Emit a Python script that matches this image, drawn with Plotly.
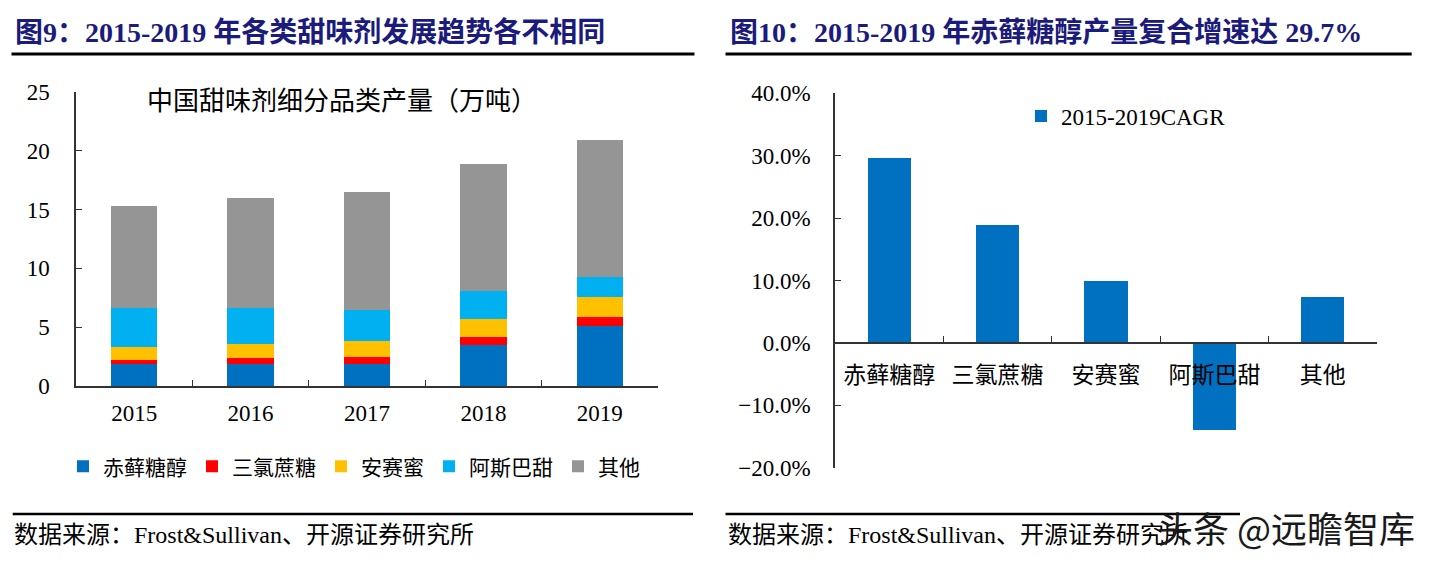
import plotly.graph_objects as go

W, H = 1433, 562

# ---------------- data ----------------
years = ["2015", "2016", "2017", "2018", "2019"]
erythritol = [1.85, 1.9, 1.9, 3.5, 5.1]
sucralose = [0.35, 0.5, 0.6, 0.7, 0.8]
acesulfame = [1.1, 1.2, 1.3, 1.5, 1.65]
aspartame = [3.3, 3.0, 2.7, 2.35, 1.75]
others = [8.7, 9.35, 10.0, 10.8, 11.6]
stack_names = ["赤藓糖醇", "三氯蔗糖", "安赛蜜", "阿斯巴甜", "其他"]
stack_colors = ["#0070C0", "#FF0000", "#FFC000", "#00B0F0", "#959595"]

cagr_cats = ["赤藓糖醇", "三氯蔗糖", "安赛蜜", "阿斯巴甜", "其他"]
cagr_vals = [29.7, 18.9, 9.9, -14.0, 7.4]
cagr_name = "2015-2019CAGR"

title_left = "图9：2015-2019 年各类甜味剂发展趋势各不相同"
title_right = "图10：2015-2019 年赤藓糖醇产量复合增速达 29.7%"
inner_title = "中国甜味剂细分品类产量（万吨）"
source_text = "数据来源：Frost&Sullivan、开源证券研究所"
watermark = "头条 @远瞻智库"

SERIF = "Liberation Serif, 'Noto Sans CJK SC', serif"
TITLE_FONT = "Liberation Serif, 'Noto Sans CJK SC', serif"
NAVY = "#1B1B7B"
AX = "#333333"


def px(x):
    return x / W


def py(y):
    return (H - y) / H


fig = go.Figure()
for name, vals, col in zip(stack_names,
                           [erythritol, sucralose, acesulfame, aspartame, others],
                           stack_colors):
    fig.add_trace(go.Bar(x=years, y=vals, name=name, marker_color=col,
                         marker_line_width=0, xaxis="x", yaxis="y",
                         legend="legend"))

fig.add_trace(go.Bar(x=cagr_cats, y=cagr_vals, name=cagr_name,
                     marker_color="#0070C0", marker_line_width=0,
                     xaxis="x2", yaxis="y2", legend="legend2"))

# domains (pixels -> paper)
lx0, lx1 = px(76), px(658)
ly0, ly1 = py(386), py(92)
rx0, rx1 = px(835), px(1377)
ry0, ry1 = py(467.7), py(93.3)
zero_pos = ry0 + (ry1 - ry0) * (20 / 60)

tickfont = dict(family=SERIF, size=23, color="#000")

fig.update_layout(
    width=W, height=H,
    margin=dict(l=0, r=0, t=0, b=0, pad=0, autoexpand=False),
    paper_bgcolor="white", plot_bgcolor="white",
    barmode="stack", bargap=0.6,
    xaxis=dict(domain=[lx0, lx1], anchor="y", type="category",
               showline=True, linecolor=AX, linewidth=1.5,
               ticks="inside", tickson="boundaries", ticklen=6, tickcolor=AX,
               tickfont=tickfont, ticklabelstandoff=6, showgrid=False,
               automargin=False),
    yaxis=dict(domain=[ly0, ly1], anchor="x", range=[0, 25], dtick=5,
               showline=True, linecolor=AX, linewidth=1.5,
               ticks="inside", ticklen=6, tickcolor=AX,
               tickfont=tickfont, ticklabelstandoff=20,
               showgrid=False, zeroline=False, automargin=False),
    xaxis2=dict(domain=[rx0, rx1], anchor="free", position=zero_pos,
                type="category",
                showline=True, linecolor=AX, linewidth=1.5,
                ticks="inside", tickson="boundaries", ticklen=6, tickcolor=AX,
                tickfont=tickfont, ticklabelstandoff=12, showgrid=False,
                automargin=False),
    yaxis2=dict(domain=[ry0, ry1], anchor="x2", range=[-20, 40], dtick=10,
                tickformat=".1f", ticksuffix="%",
                showline=True, linecolor=AX, linewidth=1.5,
                ticks="inside", ticklen=6, tickcolor=AX,
                tickfont=tickfont, ticklabelstandoff=18,
                showgrid=False, zeroline=False, automargin=False),
    legend=dict(orientation="h", x=px(63), xanchor="left",
                y=py(466.7), yanchor="middle",
                font=dict(family=SERIF, size=21, color="#000"),
                bgcolor="rgba(0,0,0,0)", traceorder="normal"),
    legend2=dict(orientation="h", x=px(1021), xanchor="left",
                 y=py(116), yanchor="middle",
                 font=dict(family=SERIF, size=23, color="#000"),
                 bgcolor="rgba(0,0,0,0)"),
    showlegend=True,
)

annotations = [
    dict(text=f"<b>{title_left}</b>", x=px(13), y=py(32), xanchor="left",
         yanchor="middle", showarrow=False,
         font=dict(family=TITLE_FONT, size=28, color=NAVY)),
    dict(text=f"<b>{title_right}</b>", x=px(728), y=py(32), xanchor="left",
         yanchor="middle", showarrow=False,
         font=dict(family=TITLE_FONT, size=28, color=NAVY)),
    dict(text=inner_title, x=px(342), y=py(102), xanchor="center",
         yanchor="middle", showarrow=False,
         font=dict(family=SERIF, size=26, color="#000")),
    dict(text=source_text, x=px(12), y=py(535), xanchor="left",
         yanchor="middle", showarrow=False,
         font=dict(family=SERIF, size=24, color="#000")),
    dict(text=source_text, x=px(726), y=py(535), xanchor="left",
         yanchor="middle", showarrow=False,
         font=dict(family=SERIF, size=24, color="#000")),
    dict(text=watermark, x=px(1286), y=py(527), xanchor="center",
         yanchor="middle", showarrow=False, bgcolor="rgba(0,0,0,0)",
         font=dict(family="'Noto Sans CJK SC', sans-serif", size=36,
                   color="#1a1a1a")),
]
for a in annotations:
    a.update(xref="paper", yref="paper")
fig.update_layout(annotations=annotations)

lines = [
    (11.5, 694.5, 54, 3),
    (725.5, 1411.7, 54, 3),
    (12.7, 693, 514, 2.5),
    (725.5, 1240, 514, 2.5),
]
shapes = []
for x0, x1, y, w in lines:
    shapes.append(dict(type="line", xref="paper", yref="paper",
                       x0=px(x0), x1=px(x1), y0=py(y), y1=py(y),
                       line=dict(color="#000", width=w)))
fig.update_layout(shapes=shapes)

fig.write_html("out.html", config={"displayModeBar": False},
               post_script="document.body.style.margin='0';document.body.style.overflow='hidden';")
